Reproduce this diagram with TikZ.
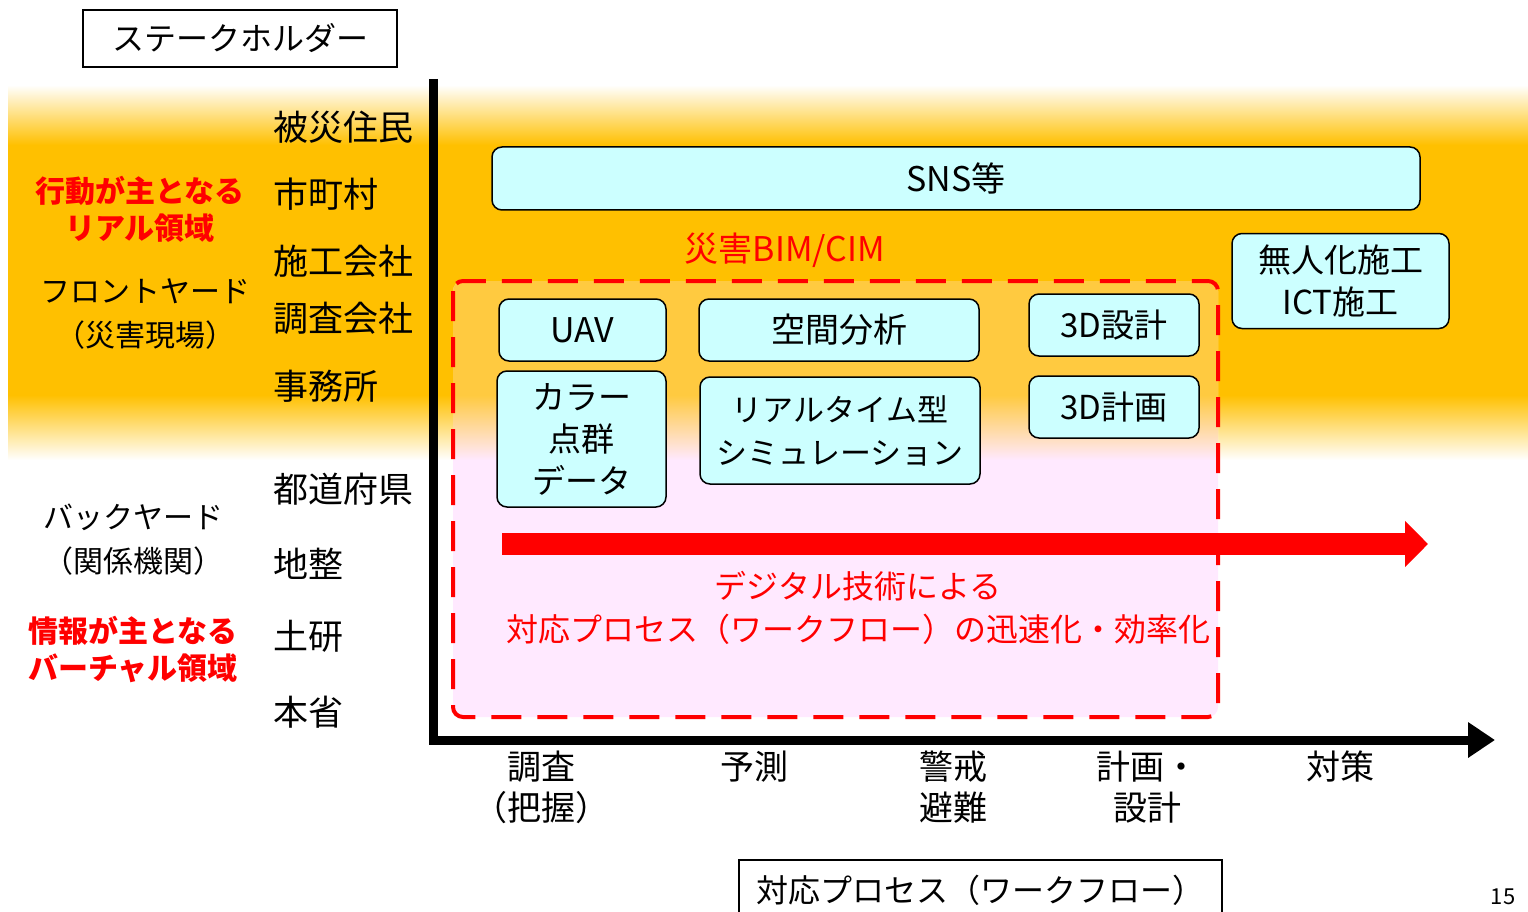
\documentclass[tikz,border=0pt]{standalone}
\usepackage{fontspec}
\setmainfont{Noto Sans CJK JP}
\usetikzlibrary{positioning,arrows.meta}
\definecolor{bandorange}{HTML}{FFC000}
\definecolor{boxcyan}{HTML}{CCFFFF}
\definecolor{boxpink}{HTML}{FFE9FF}

\begin{document}
\begin{tikzpicture}[x=1pt,y=-1pt]
        \tikzstyle{item}=[draw, rounded corners=10pt, fill=boxcyan, line width=1.5pt, align=center, inner sep=0pt, font=\fontsize{33}{42}\selectfont]
        \tikzstyle{stake}=[anchor=west, inner sep=0pt, font=\fontsize{35}{40}\selectfont]
        \tikzstyle{side}=[align=center, inner sep=0pt, font=\fontsize{30}{44}\selectfont]
        \tikzstyle{area}=[align=center, inner sep=0pt, text=red, font=\bfseries\fontsize{30}{37}\selectfont]
        \tikzstyle{phase}=[anchor=north, align=center, inner sep=0pt, font=\fontsize{34}{41}\selectfont]
        \tikzstyle{titlebox}=[draw, line width=1.5pt, inner sep=0pt, font=\fontsize{32}{38}\selectfont]

        \useasboundingbox (0,0) rectangle (1528,912);
        \fill[white] (0,0) rectangle (1528,912);

        % band of the real domain
        \shade[top color=white, bottom color=bandorange] (8,85) rectangle (1528,145);
        \fill[bandorange] (8,145) rectangle (1528,395);
        \shade[top color=bandorange, bottom color=white] (8,395) rectangle (1528,460);

        % disaster BIM/CIM area
        \fill[boxpink, rounded corners=10pt] (453,281) rectangle (1218,717);
        \begin{scope}
            \clip[rounded corners=10pt] (453,281) rectangle (1218,717);
            \fill[bandorange, fill opacity=0.75] (453,281) rectangle (1218,395);
            \shade[top color=bandorange, bottom color=boxpink, fill opacity=0.75] (453,395) rectangle (1218,460);
        \end{scope}
        \draw[red, line width=4pt, dash pattern=on 30pt off 16pt, rounded corners=10pt] (453,281) rectangle (1218,717);

        % axes
        \coordinate (ytop) at (433,79);
        \coordinate (o) at (433,740);
        \coordinate (xend) at (1495,740);
        \draw[line width=9pt, -{Triangle[length=27pt,width=34pt]}] (ytop) -- (o) -- (xend);

        \node[titlebox, minimum width=314pt, minimum height=57pt] (stk) at (240,38.5) {ステークホルダー};
        \node[titlebox, minimum width=483pt, minimum height=70pt] (flow) at (980.5,895) {};
        \node at (980,890) {\fontsize{32}{38}\selectfont 対応プロセス（ワークフロー）};
        \node[inner sep=0pt, font=\fontsize{22}{26}\selectfont] (pg) at (1503,897) {15};

        % stakeholders
        \node[stake] (s1) at (273,127) {被災住民};
        \node[stake] (s2) at (273,194) {市町村};
        \node[stake] (s3) at (273,261) {施工会社};
        \node[stake] (s4) at (273,318) {調査会社};
        \node[stake] (s5) at (273,386) {事務所};
        \node[stake] (s6) at (273,489) {都道府県};
        \node[stake] (s7) at (273,564) {地整};
        \node[stake] (s8) at (273,636) {土研};
        \node[stake] (s9) at (273,712) {本省};

        \node[area] (real) at (140,209) {行動が主となる\\リアル領域};
        \node[side] (front) at (145,314) {フロントヤード\\（災害現場）};
        \node[side] (back) at (133,540) {バックヤード\\（関係機関）};
        \node[area] (virt) at (133,650) {情報が主となる\\バーチャル領域};

        % tools
        \node[item, minimum width=928pt, minimum height=63pt, font=\fontsize{34}{40}\selectfont] (sns) at (956,178.5) {SNS等};
        \node[item, minimum width=217pt, minimum height=95pt] (mujin) at (1340.5,281) {無人化施工\\ICT施工};
        \node[item, minimum width=167pt, minimum height=62pt, font=\fontsize{34}{40}\selectfont] (uav) at (582.5,330) {UAV};
        \node[item, minimum width=280pt, minimum height=62pt, font=\fontsize{34}{40}\selectfont] (kukan) at (839,330) {空間分析};
        \node[item, minimum width=170pt, minimum height=62pt] (sekkei) at (1114,325) {3D設計};
        \node[item, minimum width=169pt, minimum height=136pt] (color) at (581.5,439) {カラー\\点群\\データ};
        \node[item, minimum width=280pt, minimum height=107pt, font=\fontsize{31}{43}\selectfont] (sim) at (840,430.5) {リアルタイム型\\シミュレーション};
        \node[item, minimum width=170pt, minimum height=62pt] (keikaku) at (1114,407) {3D計画};

        \node[text=red, inner sep=0pt, font=\fontsize{34}{40}\selectfont] (bim) at (785,250) {災害BIM/CIM};

        % workflow arrow
        \coordinate (ps) at (502,544);
        \coordinate (pe) at (1428,544);
        \draw[red, line width=22pt, -{Triangle[length=23pt,width=45pt]}] (ps) -- (pe);
        \node[text=red, align=center, inner sep=0pt, font=\fontsize{32}{43}\selectfont] (digi) at (858,608) {デジタル技術による\\対応プロセス（ワークフロー）の迅速化・効率化};

        % phases
        \node[phase] (p1) at (541,751) {調査\\（把握）};
        \node[phase] (p2) at (754,751) {予測};
        \node[phase] (p3) at (953,751) {警戒\\避難};
        \node[phase] (p4) at (1147,751) {計画・\\設計};
        \node[phase] (p5) at (1340,751) {対策};
\end{tikzpicture}
\end{document}
